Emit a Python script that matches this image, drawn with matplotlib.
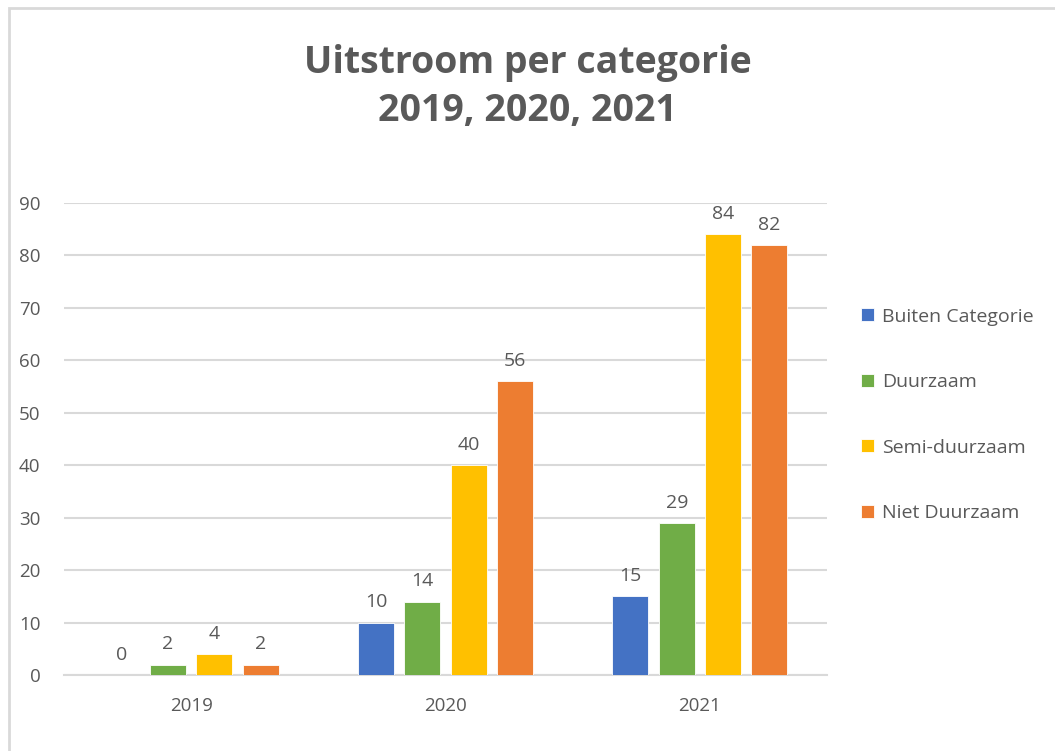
import matplotlib.pyplot as plt
import numpy as np
from matplotlib.patches import Rectangle

years = ["2019", "2020", "2021"]
series_names = ["Buiten Categorie", "Duurzaam", "Semi-duurzaam", "Niet Duurzaam"]
buiten = [0, 10, 15]
duurzaam = [2, 14, 29]
semi = [4, 40, 84]
niet = [2, 56, 82]
colors = ["#4472C4", "#70AD47", "#FFC000", "#ED7D31"]

plt.rcParams["font.family"] = ["Open Sans", "DejaVu Sans"]
TEXT = "#595959"

fig = plt.figure(figsize=(10.55, 7.51), dpi=100)
ax = fig.add_axes([64 / 1055, 1 - 675 / 751, (827 - 64) / 1055, (675 - 203) / 751])

x = np.arange(len(years))
width = 0.1416
stride = 0.182
all_series = [buiten, duurzaam, semi, niet]
for i, (name, vals, c) in enumerate(zip(series_names, all_series, colors)):
    pos = x + (i - 1.5) * stride
    ax.bar(pos, vals, width, color=c, label=name, zorder=3,
           edgecolor="white", linewidth=0.6)
    for p, v in zip(pos, vals):
        ax.annotate(str(v), (p, v), xytext=(0, 8), textcoords="offset points",
                    ha="center", va="bottom", fontsize=14, color=TEXT)

ax.set_xlim(-0.5, 2.5)
ax.set_ylim(0, 90)
ax.set_yticks(range(0, 91, 10))
ax.set_xticks(x)
ax.set_xticklabels(years)
ax.tick_params(length=0, labelsize=13.5, colors=TEXT)
ax.tick_params(axis="y", pad=17)
ax.tick_params(axis="x", pad=16)
ax.grid(axis="y", color="#D9D9D9", linewidth=1.5, zorder=0)
for s in ["top", "right", "left"]:
    ax.spines[s].set_visible(False)
ax.spines["bottom"].set_color("#D9D9D9")
ax.spines["bottom"].set_linewidth(1.5)

leg = ax.legend(loc="upper left", bbox_to_anchor=(1.035, 0.795), frameon=False,
                fontsize=14, labelspacing=2.45, handlelength=0.65, handleheight=0.65,
                handletextpad=0.4, borderaxespad=0)
for t in leg.get_texts():
    t.set_color(TEXT)

fig.text(0.5, 1 - 63 / 751, "Uitstroom per categorie", ha="center", va="center",
         fontsize=27, fontweight="bold", color=TEXT)
fig.text(0.5, 1 - 111 / 751, "2019, 2020, 2021", ha="center", va="center",
         fontsize=27, fontweight="bold", color=TEXT)

fig.patches.append(Rectangle((9 / 1055, -0.1), 1.2, 1 - 8 / 751 + 0.1,
                             transform=fig.transFigure, fill=False,
                             edgecolor="#D9D9D9", linewidth=2))

fig.savefig("out.png", dpi=100)
